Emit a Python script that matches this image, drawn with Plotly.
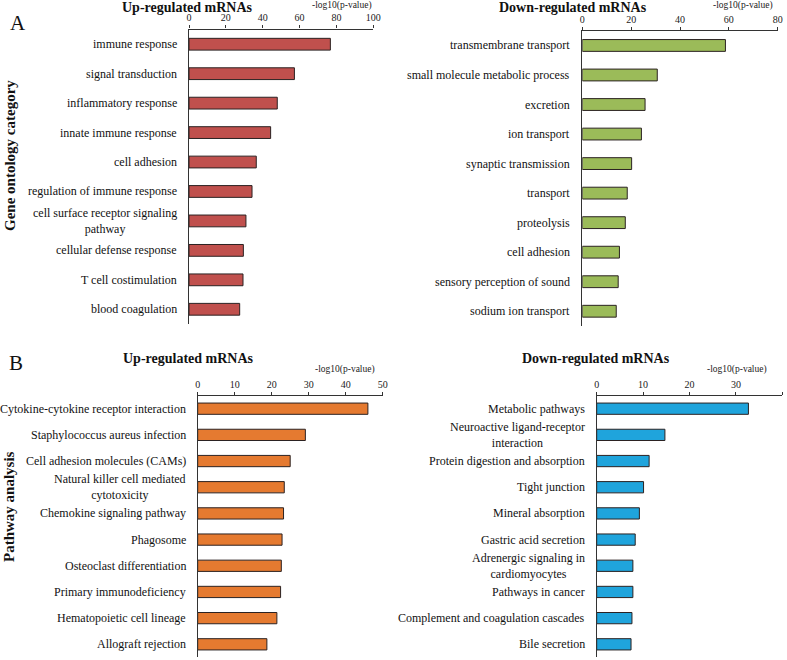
import plotly.graph_objects as go

W, H = 787, 660
FONT = "Liberation Serif"

# ---------------- data ----------------
go_up_terms = ["immune response", "signal transduction", "inflammatory response",
               "innate immune response", "cell adhesion", "regulation of immune response",
               "cell surface receptor signaling<br>pathway", "cellular defense response",
               "T cell costimulation", "blood coagulation"]
go_up_vals = [76.7, 57.2, 47.9, 44.3, 36.5, 34.2, 30.9, 29.5, 29.3, 27.5]

go_down_terms = ["transmembrane transport", "small molecule metabolic process", "excretion",
                 "ion transport", "synaptic transmission", "transport", "proteolysis",
                 "cell adhesion", "sensory perception of sound", "sodium ion transport"]
go_down_vals = [58.6, 30.7, 25.7, 24.2, 20.2, 18.4, 17.6, 15.2, 14.7, 13.9]

kegg_up_terms = ["Cytokine-cytokine receptor interaction", "Staphylococcus aureus infection",
                 "Cell adhesion molecules (CAMs)", "Natural killer cell mediated<br>cytotoxicity",
                 "Chemokine signaling pathway", "Phagosome", "Osteoclast differentiation",
                 "Primary immunodeficiency", "Hematopoietic cell lineage", "Allograft rejection"]
kegg_up_vals = [46.0, 29.1, 25.0, 23.4, 23.2, 22.8, 22.6, 22.4, 21.4, 18.7]

kegg_down_terms = ["Metabolic pathways", "Neuroactive ligand-receptor<br>interaction",
                   "Protein digestion and absorption", "Tight junction", "Mineral absorption",
                   "Gastric acid secretion", "Adrenergic signaling in<br>cardiomyocytes",
                   "Pathways in cancer", "Complement and coagulation cascades", "Bile secretion"]
kegg_down_vals = [32.7, 14.7, 11.3, 10.1, 9.2, 8.3, 7.8, 7.8, 7.6, 7.4]

x_max = [100, 80, 50, 40]
x_dtick = [20, 20, 10, 10]
panel_titles = ["Up-regulated mRNAs", "Down-regulated mRNAs", "Up-regulated mRNAs", "Down-regulated mRNAs"]
x_label = "-log10(p-value)"
row_titles = ["Gene ontology category", "Pathway analysis"]
panel_letters = ["A", "B"]

# ---------------- layout helpers ----------------
def px(x):
    return x / W

def py(y):
    return 1 - y / H

colors = ["#C0504D", "#9BBB59", "#E57A30", "#1FA4DC"]
# pixel boxes: (x0, x1, ytop, ybottom)
boxes = [(189.0, 373.3, 29.5, 324.0),
         (582.3, 777.7, 30.7, 326.0),
         (197.7, 382.7, 395.6, 657.4),
         (596.7, 782.3, 395.6, 657.4)]
bar_w = [0.40, 0.40, 0.43, 0.43]
title_pos = [(187, 8), (573, 8), (188, 358), (596, 358)]
xlab_pos = [(342, 6), (743, 6), (345, 369), (737, 369)]

panels = [(go_up_terms, go_up_vals), (go_down_terms, go_down_vals),
          (kegg_up_terms, kegg_up_vals), (kegg_down_terms, kegg_down_vals)]

fig = go.Figure()
annotations = []
layout_axes = {}

for i, (terms, vals) in enumerate(panels):
    n = i + 1
    xa = "x" if n == 1 else f"x{n}"
    ya = "y" if n == 1 else f"y{n}"
    fig.add_trace(go.Bar(
        x=vals, y=terms, orientation="h", xaxis=xa, yaxis=ya,
        width=bar_w[i],
        marker=dict(color=colors[i], line=dict(color="#2b2222", width=1)),
        showlegend=False, hoverinfo="x+y",
    ))
    x0, x1, yt, yb = boxes[i]
    layout_axes["xaxis" if n == 1 else f"xaxis{n}"] = dict(
        domain=[px(x0), px(x1)], anchor=ya, side="top",
        range=[0, x_max[i]], dtick=x_dtick[i], tick0=0,
        showline=True, linecolor="#333", linewidth=1.2,
        ticks="outside", ticklen=3, tickcolor="#333", tickwidth=1,
        showgrid=False, zeroline=False, automargin=False,
        tickfont=dict(family=FONT, size=10, color="#222"),
        fixedrange=True,
    )
    layout_axes["yaxis" if n == 1 else f"yaxis{n}"] = dict(
        domain=[py(yb), py(yt)], anchor=xa,
        type="category", categoryorder="array", categoryarray=terms,
        range=[len(terms) - 0.5, -0.5],
        showline=True, linecolor="#333", linewidth=1.4,
        ticks="", showticklabels=False, showgrid=False, zeroline=False,
        automargin=False, fixedrange=True,
    )
    # category labels (centered lines, right-anchored at the axis)
    for t in terms:
        annotations.append(dict(
            x=0, xref=f"{xa} domain", y=t, yref=ya,
            text=t, showarrow=False, xanchor="right", yanchor="middle",
            xshift=-10, align="center",
            font=dict(family=FONT, size=12, color="#111"),
        ))
    # panel title
    tx, ty = title_pos[i]
    annotations.append(dict(
        x=px(tx), y=py(ty), xref="paper", yref="paper", text=f"<b>{panel_titles[i]}</b>",
        showarrow=False, xanchor="center", yanchor="middle",
        font=dict(family=FONT, size=14, color="#111"),
    ))
    lx, ly = xlab_pos[i]
    annotations.append(dict(
        x=px(lx), y=py(ly), xref="paper", yref="paper", text=x_label,
        showarrow=False, xanchor="center", yanchor="middle",
        font=dict(family=FONT, size=9.5, color="#222"),
    ))

# row titles
for (rx, ry), txt in zip([(10, 156), (9, 507)], row_titles):
    annotations.append(dict(
        x=px(rx), y=py(ry), xref="paper", yref="paper", text=f"<b>{txt}</b>",
        showarrow=False, textangle=-90, xanchor="center", yanchor="middle",
        font=dict(family=FONT, size=15, color="#111"),
    ))
# panel letters
for (lx, ly), txt in zip([(18, 23), (16, 363)], panel_letters):
    annotations.append(dict(
        x=px(lx), y=py(ly), xref="paper", yref="paper", text=txt,
        showarrow=False, xanchor="center", yanchor="middle",
        font=dict(family=FONT, size=21, color="#111"),
    ))

fig.update_layout(
    template="none",
    width=W, height=H,
    margin=dict(l=0, r=0, t=0, b=0, autoexpand=False),
    paper_bgcolor="white", plot_bgcolor="white",
    bargap=0.6,
    annotations=annotations,
    **layout_axes,
)

fig.write_html(
    "out.html",
    config={"displayModeBar": False, "staticPlot": False},
    post_script="document.body.style.margin='0';document.body.style.overflow='hidden';",
)
